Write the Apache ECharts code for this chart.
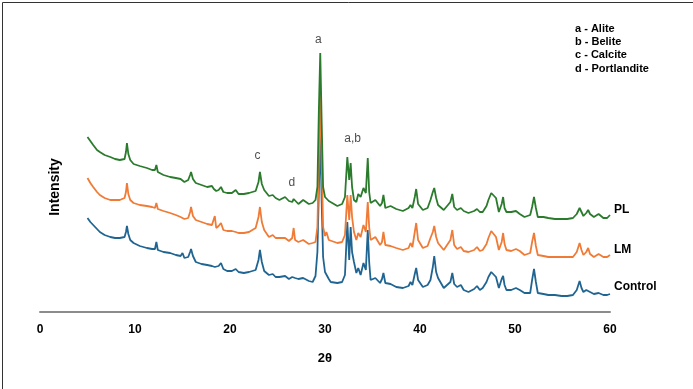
<!DOCTYPE html>
<html>
<head>
<meta charset="utf-8">
<script src="https://cdn.jsdelivr.net/npm/echarts@6/dist/echarts.min.js"></script>
<style>
  html, body { margin: 0; padding: 0; background: #fff; }
  #chart { width: 693px; height: 389px; }
</style>
</head>
<body>
<div id="chart"></div>
<script>
// 2θ positions shared by all patterns
const twoTheta = [
    5.0, 5.3, 5.6, 6.0, 6.3, 6.8, 7.4, 7.9, 8.4, 8.9,
    9.05, 9.15, 9.3, 9.5, 9.85, 10.5, 11.25, 11.8, 12.1, 12.25,
    12.4, 13.0, 13.7, 14.3, 14.8, 15.0, 15.2, 15.6, 15.8, 15.9,
    16.1, 16.4, 17.0, 17.6, 18.1, 18.3, 18.4, 18.55, 18.8, 19.05,
    19.3, 19.7, 20.2, 20.6, 20.9, 21.45, 22.0, 22.7, 23.0, 23.15,
    23.35, 23.6, 24.1, 24.5, 24.8, 25.2, 25.8, 26.2, 26.55, 26.7,
    26.85, 27.2, 27.7, 28.3, 28.7, 29.0, 29.2, 29.35, 29.5, 29.65,
    29.8, 30.0, 30.15, 30.4, 30.6, 31.3, 31.8, 32.1, 32.35, 32.55,
    32.7, 32.85, 33.05, 33.3, 33.5, 33.75, 34.05, 34.3, 34.5, 34.65,
    34.8, 35.3, 35.8, 36.0, 36.15, 36.35, 36.9, 37.5, 38.2, 38.8,
    39.0, 39.2, 39.45, 39.6, 39.8, 40.3, 40.8, 41.1, 41.35, 41.5,
    41.7, 41.9, 42.5, 43.2, 43.4, 43.6, 43.9, 44.3, 44.6, 45.1,
    45.7, 46.0, 46.3, 46.6, 47.0, 47.2, 47.5, 47.7, 48.0, 48.3,
    48.6, 48.75, 48.9, 49.1, 49.6, 50.1, 50.5, 51.0, 51.6, 51.8,
    52.0, 52.2, 52.4, 53.0, 53.5, 54.2, 54.9, 55.5, 56.1, 56.5,
    56.8, 57.0, 57.2, 57.5, 57.7, 57.9, 58.3, 58.8, 59.3, 59.7,
    60.0
]

// intensities (arbitrary units, already stacked as in the figure)
const control = [
    94, 90, 87, 83, 80, 77, 75, 74, 74, 75,
    80, 86, 78, 72, 69, 66, 64, 63, 63, 70,
    62, 60, 59, 57, 56, 59, 54, 55, 60, 63,
    56, 50, 48, 47, 46, 45, 45, 45, 46, 49,
    43, 41, 41, 43, 40, 39, 40, 42, 52, 62,
    50, 41, 37, 38, 35, 35, 36, 33, 35, 37,
    34, 33, 34, 31, 30, 36, 60, 120, 179, 110,
    55, 40, 42, 33, 30, 29, 30, 37, 90, 52,
    85, 60, 50, 39, 44, 37, 49, 42, 82, 50,
    32, 34, 29, 33, 39, 29, 28, 25, 24, 26,
    30, 27, 38, 44, 32, 25, 27, 32, 45, 56,
    40, 34, 24, 30, 39, 28, 25, 27, 22, 20,
    23, 26, 22, 24, 30, 35, 40, 39, 35, 24,
    33, 36, 27, 22, 22, 24, 22, 19, 19, 32,
    43, 30, 19, 18, 17, 17, 16, 16, 17, 22,
    31, 24, 20, 22, 24, 20, 18, 19, 17, 17,
    18
]
const lm = [
    134, 129, 125, 120, 117, 114, 112, 112, 112, 114,
    120, 129, 118, 112, 109, 107, 106, 105, 104, 109,
    103, 101, 99, 97, 95, 97, 93, 94, 100, 105,
    96, 92, 90, 88, 87, 87, 96, 84, 86, 89,
    82, 81, 81, 80, 79, 79, 80, 84, 95, 105,
    90, 82, 75, 77, 74, 74, 74, 71, 74, 84,
    72, 70, 72, 68, 69, 70, 85, 150, 221, 150,
    85, 76, 80, 72, 70, 69, 70, 77, 117, 92,
    117, 95, 80, 72, 79, 75, 87, 80, 110, 85,
    72, 75, 67, 70, 80, 67, 66, 64, 62, 64,
    69, 65, 80, 89, 72, 64, 66, 74, 80, 86,
    75, 69, 62, 72, 82, 67, 63, 65, 61, 60,
    62, 65, 61, 62, 68, 74, 81, 83, 75, 62,
    70, 79, 68, 62, 61, 63, 61, 57, 59, 70,
    79, 66, 57, 56, 55, 55, 55, 55, 55, 60,
    69, 62, 57, 60, 64, 58, 55, 58, 55, 55,
    57
]
const pl = [
    175, 171, 167, 162, 160, 157, 155, 153, 152, 153,
    160, 169, 158, 152, 148, 146, 144, 142, 142, 147,
    140, 137, 135, 134, 133, 135, 130, 132, 137, 140,
    133, 129, 127, 125, 126, 123, 122, 121, 122, 125,
    120, 119, 119, 122, 118, 118, 119, 121, 130, 140,
    128, 122, 116, 117, 114, 112, 115, 111, 110, 113,
    111, 108, 112, 108, 109, 112, 125, 200, 259, 190,
    125, 115, 117, 111, 109, 106, 108, 115, 155, 132,
    149, 125, 112, 110, 118, 115, 124, 119, 154, 120,
    109, 112, 106, 109, 117, 104, 106, 103, 101, 104,
    107, 104, 115, 123, 108, 102, 104, 112, 120, 124,
    114, 107, 102, 110, 118, 105, 102, 104, 101, 99,
    101, 103, 100, 100, 106, 112, 119, 120, 114, 100,
    108, 115, 104, 100, 100, 101, 98, 95, 97, 105,
    115, 104, 95, 95, 94, 93, 93, 93, 94, 98,
    104, 100, 96, 99, 102, 98, 95, 98, 94, 94,
    97
]

// phase markers above the peaks
const peakLabels = ['a', 'a,b', 'c', 'd']
const peakTheta = [29.3, 32.9, 22.9, 26.5]
const peakLevel = [272, 173, 156, 129]

const phaseKey = ['a - Alite', 'b - Belite', 'c - Calcite', 'd - Portlandite']

const xTicks = { min: 0, max: 60, interval: 10 }

const font = 'Liberation Sans, Arial, sans-serif'

function pairs(ys) {
    return twoTheta.map((t, i) => [t, ys[i]])
}

function pattern(name, ys, color, dy) {
    return {
        name,
        type: 'line',
        data: pairs(ys),
        showSymbol: false,
        symbol: 'none',
        animation: false,
        lineStyle: { color, width: 1.8 },
        itemStyle: { color },
        endLabel: {
            show: true,
            formatter: name,
            color: '#000',
            fontFamily: font,
            fontWeight: 'bold',
            fontSize: 12,
            distance: 4,
            offset: [0, dy]
        }
    }
}

const chart = echarts.init(document.getElementById('chart'))
chart.setOption({
    backgroundColor: '#fff',
    animation: false,
    grid: { left: 40, right: 83, top: 0, bottom: 77 },
    xAxis: {
        type: 'value',
        min: xTicks.min,
        max: xTicks.max,
        interval: xTicks.interval,
        name: '2θ',
        nameLocation: 'middle',
        nameGap: 40,
        nameTextStyle: { fontFamily: font, fontWeight: 'bold', fontSize: 13, color: '#000' },
        axisLine: { lineStyle: { color: '#8c8c8c', width: 2 } },
        axisTick: { show: false },
        splitLine: { show: false },
        axisLabel: { fontFamily: font, fontWeight: 'bold', fontSize: 12, color: '#000', margin: 12 }
    },
    yAxis: {
        type: 'value',
        min: 0,
        max: 312,
        show: false
    },
    series: [
        pattern('Control', control, '#206591', -7),
        pattern('LM', lm, '#f07b36', -5),
        pattern('PL', pl, '#2b7b2d', -5),
        {
            type: 'scatter',
            symbolSize: 0,
            silent: true,
            z: 5,
            data: peakLabels.map((t, i) => [peakTheta[i], peakLevel[i], t]),
            label: {
                show: true,
                position: 'inside',
                formatter: p => p.data[2],
                fontFamily: font,
                fontSize: 12,
                color: '#222'
            }
        }
    ],
    graphic: [
        {
            type: 'rect',
            left: 0,
            top: 0,
            shape: { width: 692, height: 388 },
            style: { fill: 'none', stroke: '#333', lineWidth: 1 }
        },
        {
            type: 'text',
            x: 55,
            y: 187,
            rotation: Math.PI / 2,
            style: {
                text: 'Intensity',
                fontFamily: font,
                fontWeight: 'bold',
                fontSize: 14,
                fill: '#000',
                textAlign: 'center',
                textVerticalAlign: 'middle'
            }
        },
        {
            type: 'group',
            left: 575,
            top: 23,
            children: phaseKey.map((t, i) => ({
                type: 'text',
                left: 0,
                top: i * 13.4,
                style: { text: t, fontFamily: font, fontWeight: 'bold', fontSize: 11, fill: '#000' }
            }))
        }
    ]
})
</script>
</body>
</html>
